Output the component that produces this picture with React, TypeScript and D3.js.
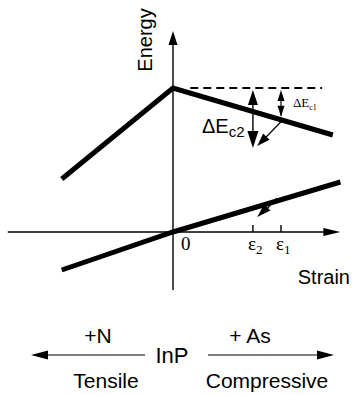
import * as d3 from 'd3';

// band edges, [strain, energy] in arbitrary units
const conductionBand: [number, number][] = [[-1.03, 0.53], [0, 1.44], [1.48, 0.97]];
const valenceBand: [number, number][] = [[-1.03, -0.38], [0, 0], [1.55, 0.5]];

const strainTicks = [
  { v: 0.74, sub: '2' },
  { v: 1.0, sub: '1' },
];
const referenceLevel = 1.44;
const referenceSpan = [0.16, 1.38];
const strainAxisRange = [-1.53, 1.55];
const energyAxisRange = [-0.58, 2.01];
const dEc2Bottom = 0.84;

const W = 352;
const H = 395;
const sans = '"Liberation Sans", Arial, Helvetica, sans-serif';
const serif = '"Liberation Serif", "Times New Roman", serif';

const x = d3.scaleLinear().domain([0, 1]).range([173, 281]);
const y = d3.scaleLinear().domain([0, 1]).range([232, 132]);

const line = d3
  .line<[number, number]>()
  .x((d) => x(d[0]))
  .y((d) => y(d[1]));

// energy on a band at a given strain (linear between the corner points)
const bandAt = (band: [number, number][], s: number) => {
  const interp = d3.scaleLinear().domain(band.map((d) => d[0])).range(band.map((d) => d[1]));
  return interp(s);
};

// filled arrow head, tip at (tx,ty) pointing away from (fx,fy)
const head = (tx: number, ty: number, fx: number, fy: number, len: number, wid: number) => {
  const a = Math.atan2(ty - fy, tx - fx);
  const bx = tx - len * Math.cos(a);
  const by = ty - len * Math.sin(a);
  const px = (wid / 2) * Math.sin(a);
  const py = (wid / 2) * Math.cos(a);
  return `${tx},${ty} ${bx + px},${by - py} ${bx - px},${by + py}`;
};

export default function App() {
  const x0 = x(0);
  const y0 = y(0);
  const yRef = y(referenceLevel);
  const e2 = strainTicks[0].v;
  const e1 = strainTicks[1].v;
  const yc2 = y(bandAt(conductionBand, e2));
  const yc1 = y(bandAt(conductionBand, e1));
  const xl = x(strainAxisRange[0]);
  const xr = x(strainAxisRange[1]);
  const yt = y(energyAxisRange[1]);
  const yb = y(energyAxisRange[0]);

  // diagonal arrow from the ΔEc1 label toward ε2
  const d1 = { fx: x(e1), fy: yc1 + 2, tx: x(0.78), ty: y(0.86) };
  // small arrow on the valence band
  const v1 = { fx: x(0.96), fy: y(bandAt(valenceBand, 0.96)) - 3, tx: x(0.78), ty: y(0.15) };

  return (
    <svg width={W} height={H} style={{ position: 'absolute', left: 0, top: 0, background: '#fff' }}>
      {/* axes */}
      <line x1={xl} x2={xr - 12} y1={y0} y2={y0} stroke="#000" strokeWidth={1.4} />
      <polygon points={head(xr, y0, xl, y0, 17, 8)} fill="#000" />
      <line x1={x0} x2={x0} y1={yb} y2={yt + 10} stroke="#000" strokeWidth={1.4} />
      <polygon points={head(x0, yt, x0, yb, 14, 9)} fill="#000" />

      {/* reference level */}
      <line
        x1={x(referenceSpan[0])}
        x2={x(referenceSpan[1])}
        y1={yRef}
        y2={yRef}
        stroke="#000"
        strokeWidth={2}
        strokeDasharray="8,5"
      />

      {/* bands */}
      <path d={line(conductionBand) || ''} fill="none" stroke="#000" strokeWidth={5} strokeLinejoin="miter" />
      <path d={line(valenceBand) || ''} fill="none" stroke="#000" strokeWidth={5} />

      {/* strain ticks */}
      {strainTicks.map((t) => (
        <g key={t.sub}>
          <line x1={x(t.v)} x2={x(t.v)} y1={y0 - 7} y2={y0} stroke="#000" strokeWidth={1.4} />
          <text x={x(t.v) - 5} y={250} fontFamily={serif} fontSize={19}>
            ε<tspan fontSize={13} dy={4}>{t.sub}</tspan>
          </text>
        </g>
      ))}
      <text x={x0 + 8} y={250} fontFamily={serif} fontSize={19}>
        0
      </text>

      {/* ΔEc2 arrow */}
      <line x1={x(e2)} x2={x(e2)} y1={yRef + 10} y2={y(dEc2Bottom) - 10} stroke="#000" strokeWidth={1.4} />
      <polygon points={head(x(e2), yRef + 2, x(e2), yc2, 15, 10)} fill="#000" />
      <polygon points={head(x(e2), y(dEc2Bottom), x(e2), yc2, 17, 11)} fill="#000" />
      <text x={202} y={133} fontFamily={sans} fontSize={20}>
        ΔE<tspan fontSize={15} dy={4}>c2</tspan>
      </text>

      {/* ΔEc1 arrow */}
      <line x1={x(e1)} x2={x(e1)} y1={yRef + 6} y2={yc1 - 4} stroke="#000" strokeWidth={1.2} />
      <polygon points={head(x(e1), yRef + 2, x(e1), yc1, 11, 7)} fill="#000" />
      <polygon points={head(x(e1), yc1 - 3, x(e1), yRef, 11, 7)} fill="#000" />
      <text x={293} y={107} fontFamily={serif} fontSize={13}>
        ΔE<tspan fontSize={8} dy={3}>c1</tspan>
      </text>

      <line x1={d1.fx} y1={d1.fy} x2={d1.tx + 6} y2={d1.ty - 6} stroke="#000" strokeWidth={1.2} />
      <polygon points={head(d1.tx, d1.ty, d1.fx, d1.fy, 13, 9)} fill="#000" />

      <line x1={v1.fx} y1={v1.fy} x2={v1.tx + 6} y2={v1.ty - 4} stroke="#000" strokeWidth={1.2} />
      <polygon points={head(v1.tx, v1.ty, v1.fx, v1.fy, 14, 9)} fill="#000" />

      {/* axis titles */}
      <text
        transform={`translate(152,40) rotate(-90)`}
        textAnchor="middle"
        fontFamily={sans}
        fontSize={20}
      >
        Energy
      </text>
      <text x={350} y={284} textAnchor="end" fontFamily={sans} fontSize={20}>
        Strain
      </text>

      {/* composition legend */}
      <line x1={44} x2={145} y1={355} y2={355} stroke="#000" strokeWidth={1} />
      <polygon points={head(31, 355, 145, 355, 17, 9)} fill="#000" />
      <line x1={208} x2={320} y1={355} y2={355} stroke="#000" strokeWidth={1} />
      <polygon points={head(334, 355, 208, 355, 17, 9)} fill="#000" />
      <text x={98} y={343} textAnchor="middle" fontFamily={sans} fontSize={21}>
        +N
      </text>
      <text x={250} y={343} textAnchor="middle" fontFamily={sans} fontSize={21}>
        + As
      </text>
      <text x={172} y={363} textAnchor="middle" fontFamily={sans} fontSize={22}>
        InP
      </text>
      <text x={106} y={388} textAnchor="middle" fontFamily={sans} fontSize={21}>
        Tensile
      </text>
      <text x={267} y={388} textAnchor="middle" fontFamily={sans} fontSize={21}>
        Compressive
      </text>
    </svg>
  );
}
